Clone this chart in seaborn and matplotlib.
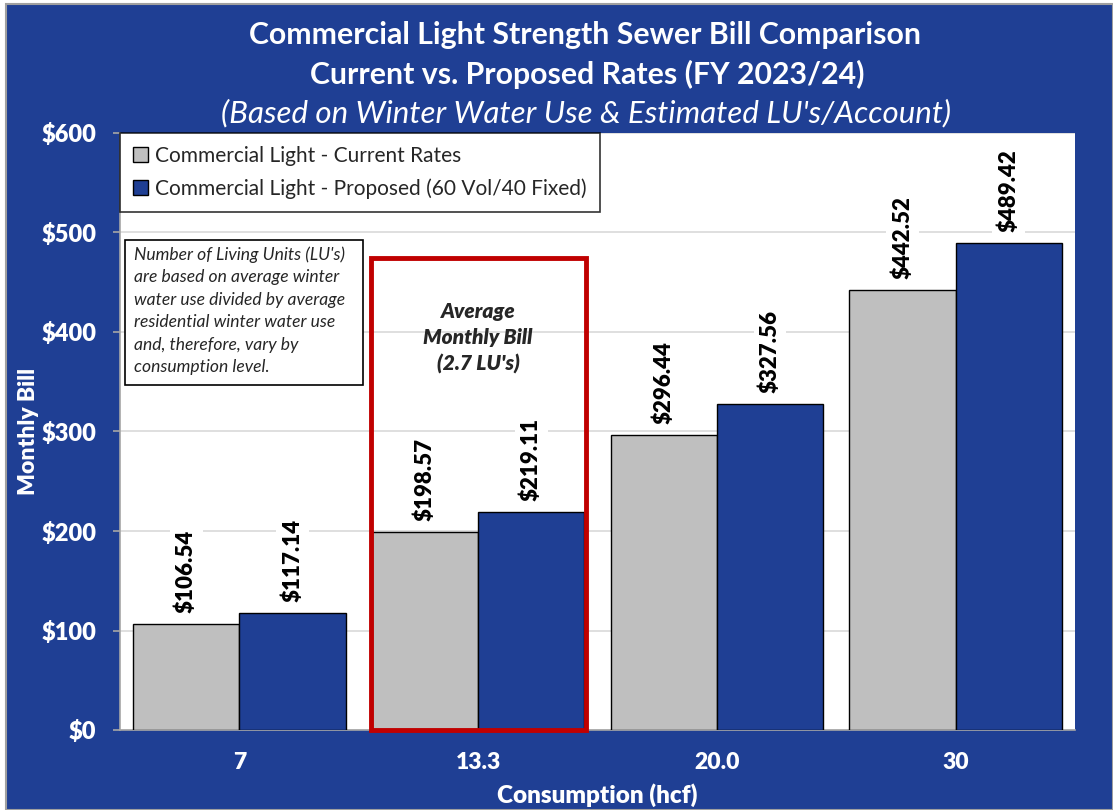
import matplotlib
matplotlib.use("Agg")
import matplotlib.pyplot as plt
import seaborn as sns
import pandas as pd
from matplotlib.patches import Rectangle

categories = ["7", "13.3", "20.0", "30"]
current_rates = [106.54, 198.57, 296.44, 442.52]
proposed_rates = [117.14, 219.11, 327.56, 489.42]
series_names = ["Commercial Light - Current Rates",
                "Commercial Light - Proposed (60 Vol/40 Fixed)"]
yticks = [0, 100, 200, 300, 400, 500, 600]
ytick_labels = ["$0", "$100", "$200", "$300", "$400", "$500", "$600"]

BLUE = "#1F3F94"
GRAY = "#BFBFBF"

df = pd.DataFrame({
    "Consumption": categories * 2,
    "Bill": current_rates + proposed_rates,
    "Series": [series_names[0]] * 4 + [series_names[1]] * 4,
})

sns.set_theme(style="white")
plt.rcParams["font.family"] = ["Lato", "DejaVu Sans"]

W, H = 1113, 810
fig = plt.figure(figsize=(W / 100, H / 100), dpi=100, facecolor="white")
fig.patches.append(Rectangle((6 / W, 0), 1 - 6 / W, 1 - 4 / H, transform=fig.transFigure,
                             facecolor=BLUE, edgecolor="#A0A0A0", linewidth=1.5, zorder=-10))

ax = fig.add_axes([120 / W, 80 / H, 955 / W, 597 / H])
ax.set_facecolor("white")

sns.barplot(data=df, x="Consumption", y="Bill", hue="Series", order=categories,
            hue_order=series_names, palette=[GRAY, BLUE], width=0.89, saturation=1,
            edgecolor="black", linewidth=1.0, ax=ax, zorder=3, legend=True)

ax.set_ylim(0, 600)
ax.set_xlim(-0.5, len(categories) - 0.5)
ax.set_yticks(yticks)
ax.set_yticklabels(ytick_labels, color="white", fontsize=17, fontweight="heavy")
ax.set_xticks(range(len(categories)))
ax.set_xticklabels(categories, color="white", fontsize=16.5, fontweight="heavy")
ax.tick_params(axis="y", length=5, color="#A6A6A6", width=1.2, pad=12, left=True)
ax.tick_params(axis="x", length=0, pad=16)
ax.yaxis.grid(True, color="#D9D9D9", linewidth=1.2, zorder=0)
ax.set_axisbelow(True)
for s in ["top", "right"]:
    ax.spines[s].set_visible(False)
for s in ["left", "bottom"]:
    ax.spines[s].set_color("#A6A6A6"); ax.spines[s].set_linewidth(1.2)

ax.set_ylabel("Monthly Bill", color="white", fontsize=16.5, fontweight="heavy")
ax.set_xlabel("Consumption (hcf)", color="white", fontsize=17.5, fontweight="heavy")
ax.yaxis.set_label_coords(-0.096, 0.5)
ax.xaxis.set_label_coords(0.4995, -0.109)
ax.xaxis.label.set_va("center")
ax.yaxis.label.set_va("center")

# data labels
for cont in ax.containers:
    for bar in cont:
        h = bar.get_height()
        ax.annotate(f"${h:.2f}", (bar.get_x() + bar.get_width() / 2, h),
                    xytext=(0, 8), textcoords="offset points", rotation=90,
                    ha="center", va="bottom", fontsize=16, fontweight="heavy", color="black",
                    bbox=dict(facecolor="white", edgecolor="none", pad=4), zorder=5)

# legend
leg = ax.legend(loc="upper left", bbox_to_anchor=(0, 1), borderaxespad=0, fontsize=15,
                frameon=True, fancybox=False, edgecolor="black", handlelength=0.75,
                handleheight=0.75, handletextpad=0.35, labelspacing=0.62,
                borderpad=0.6, title=None)
leg.get_frame().set_linewidth(1.2)
leg.set_zorder(6)

# red highlight box around average group
ax.add_patch(Rectangle((1 - 0.45, 0), 0.9, 474, fill=False, edgecolor="#C00000",
                       linewidth=3.5, zorder=4, clip_on=False))
ax.text(1, 394, "Average\nMonthly Bill\n(2.7 LU's)", ha="center", va="center",
        fontsize=15, fontweight="heavy", fontstyle="italic", linespacing=1.45, zorder=5)

# note box
fig.patches.append(Rectangle((125 / W, 1 - 385 / H), 238 / W, 145 / H, transform=fig.transFigure,
                             facecolor="white", edgecolor="black", linewidth=1.2, zorder=5))
fig.text(134 / W, 1 - 246 / H,
         "Number of Living Units (LU's)\nare based on average winter\nwater use divided by average\n"
         "residential winter water use\nand, therefore, vary by\nconsumption level.",
         ha="left", va="top", fontsize=12.6, fontstyle="italic", linespacing=1.5, zorder=6)

# titles
fig.text(585 / W, 1 - 35 / H, "Commercial Light Strength Sewer Bill Comparison",
         ha="center", va="center", color="white", fontsize=21.8, fontweight="bold")
fig.text(587 / W, 1 - 74 / H, "Current vs. Proposed Rates (FY 2023/24)",
         ha="center", va="center", color="white", fontsize=21.8, fontweight="bold")
fig.text(586 / W, 1 - 113 / H, "(Based on Winter Water Use & Estimated LU's/Account)",
         ha="center", va="center", color="white", fontsize=22.5, fontstyle="italic")

fig.savefig("out.png", dpi=100, facecolor=fig.get_facecolor())
